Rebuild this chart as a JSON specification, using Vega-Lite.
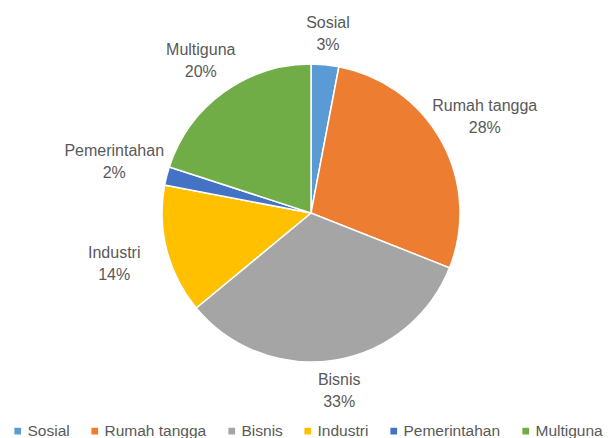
{
  "$schema": "https://vega.github.io/schema/vega-lite/v6.json",
  "width": 610,
  "height": 406,
  "autosize": {"type": "none"},
  "padding": {"left": 6, "top": 10, "right": 0, "bottom": 22},
  "background": "white",
  "view": {"stroke": null},
  "data": {
    "values": [
      {"category": "Sosial", "value": 3, "i": 1},
      {"category": "Rumah tangga", "value": 28, "i": 2},
      {"category": "Bisnis", "value": 33, "i": 3},
      {"category": "Industri", "value": 14, "i": 4},
      {"category": "Pemerintahan", "value": 2, "i": 5},
      {"category": "Multiguna", "value": 20, "i": 6}
    ]
  },
  "transform": [
    {"calculate": "datum.category + '\\n' + datum.value + '%'", "as": "label"}
  ],
  "encoding": {
    "theta": {"field": "value", "type": "quantitative", "stack": true},
    "order": {"field": "i", "type": "quantitative"}
  },
  "layer": [
    {
      "mark": {"type": "arc", "outerRadius": 149, "stroke": "white", "strokeWidth": 1.5},
      "encoding": {
        "color": {
          "field": "category",
          "type": "nominal",
          "sort": ["Sosial", "Rumah tangga", "Bisnis", "Industri", "Pemerintahan", "Multiguna"],
          "scale": {
            "domain": ["Sosial", "Rumah tangga", "Bisnis", "Industri", "Pemerintahan", "Multiguna"],
            "range": ["#5B9BD5", "#ED7D31", "#A5A5A5", "#FFC000", "#4472C4", "#70AD47"]
          },
          "legend": {
            "title": null,
            "orient": "bottom",
            "direction": "horizontal",
            "offset": 3,
            "padding": 4,
            "symbolType": "square",
            "symbolSize": 45,
            "symbolStrokeWidth": 0,
            "labelFont": "Liberation Sans",
            "labelFontSize": 15.5,
            "labelColor": "#595959",
            "labelOffset": 2,
            "columnPadding": 17
          }
        }
      }
    },
    {
      "mark": {
        "type": "text",
        "radius": {"expr": "205*180/sqrt(pow(180*sin(PI*(datum.value_start+datum.value_end)/100),2)+pow(205*cos(PI*(datum.value_start+datum.value_end)/100),2))"},
        "font": "Liberation Sans",
        "fontSize": 16,
        "lineBreak": "\n",
        "lineHeight": 22,
        "dy": -11,
        "fill": "#595959",
        "align": "center",
        "baseline": "middle"
      },
      "encoding": {
        "detail": {"field": "category", "type": "nominal"},
        "text": {"field": "label", "type": "nominal"}
      }
    }
  ]
}
